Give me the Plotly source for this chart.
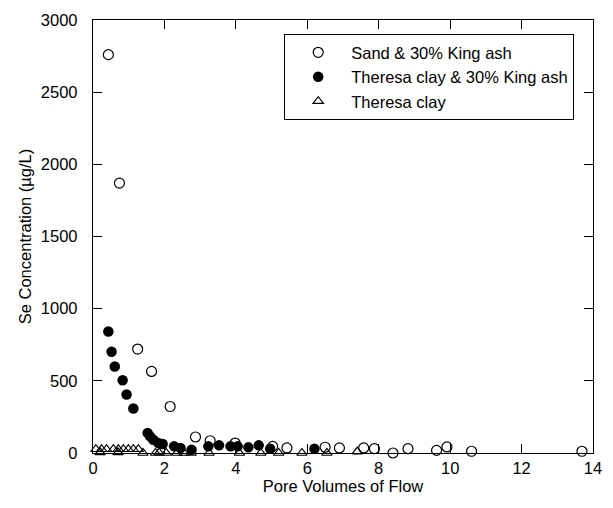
import plotly.graph_objects as go

# Sand & 30% King ash (open circles)
sand_x = [0.43, 0.74, 1.25, 1.64, 2.16, 2.87, 3.28, 3.98, 5.03, 5.43, 6.5, 6.9, 7.58, 7.88, 8.4, 8.82, 9.62, 9.91, 10.6, 13.69]
sand_y = [2760, 1870, 720, 565, 322, 111, 85, 69, 46, 35, 40, 35, 35, 30, 0, 30, 18, 42, 12, 12]

# Theresa clay & 30% King ash (filled circles)
tcka_x = [0.43, 0.52, 0.61, 0.83, 0.94, 1.13, 1.53, 1.6, 1.69, 1.83, 1.95, 2.27, 2.45, 2.76,
          3.23, 3.53, 3.85, 4.05, 4.35, 4.64, 4.96, 6.2]
tcka_y = [842, 701, 599, 504, 405, 308, 139, 115, 92, 69, 62, 46, 35, 23,
          46, 53, 46, 46, 39, 53, 30, 30]

# Theresa clay (open triangles)
tc_x = [0.08, 0.2, 0.24, 0.38, 0.57, 0.7, 0.71, 0.85, 0.99, 1.13, 1.27,
        1.4, 1.75, 1.85, 2.05, 2.35, 2.55, 2.75, 3.25, 4.1, 4.7, 5.2, 5.85, 6.55, 7.4]
tc_y = [26, 5, 26, 26, 26, 5, 26, 26, 26, 26, 26,
        0, 0, 3, 0, 0, 0, 0, 0, 0, 0, 0, 0, 0, 10]

x_ticks = [0, 2, 4, 6, 8, 10, 12, 14]
y_ticks = [0, 500, 1000, 1500, 2000, 2500, 3000]

FONT = "Helvetica, Arial, Liberation Sans, sans-serif"

fig = go.Figure()
fig.add_trace(go.Scatter(
    x=sand_x, y=sand_y, mode="markers", name="Sand & 30% King ash",
    marker=dict(symbol="circle-open", size=10, color="black", line=dict(width=1.2, color="black")),
    cliponaxis=False,
))
fig.add_trace(go.Scatter(
    x=tcka_x, y=tcka_y, mode="markers", name="Theresa clay & 30% King ash",
    marker=dict(symbol="circle", size=10.5, color="black"),
    cliponaxis=False,
))
fig.add_trace(go.Scatter(
    x=tc_x, y=tc_y, mode="markers", name="Theresa clay",
    marker=dict(symbol="triangle-up-open", size=9, color="black", line=dict(width=1.2, color="black")),
    cliponaxis=False,
))

axis_common = dict(
    showline=True, linecolor="black", linewidth=1.3, mirror="ticks",
    ticks="inside", ticklen=9, tickwidth=1.2, tickcolor="black",
    showgrid=False, zeroline=False,
    tickfont=dict(family=FONT, size=16.5, color="black"),
)

fig.update_xaxes(
    range=[0, 14], tickvals=x_ticks, ticktext=[str(v) for v in x_ticks],
    title=dict(text="Pore Volumes of Flow", font=dict(family=FONT, size=16.5, color="black"), standoff=0),
    ticklabelstandoff=0,
    **axis_common,
)
fig.update_yaxes(
    range=[0, 3000], tickvals=y_ticks, ticktext=[str(v) for v in y_ticks],
    title=dict(text="Se Concentration (µg/L)", font=dict(family=FONT, size=16.5, color="black"), standoff=5),
    ticklabelstandoff=11,
    **axis_common,
)

fig.update_layout(
    width=613, height=508,
    margin=dict(l=93, r=20, t=20, b=55, autoexpand=False),
    plot_bgcolor="white", paper_bgcolor="white",
    font=dict(family=FONT, size=16.5, color="black"),
    showlegend=True,
    legend=dict(
        x=0.382, y=0.968, xanchor="left", yanchor="top",
        bordercolor="black", borderwidth=1.2, bgcolor="white",
        font=dict(family=FONT, size=16.5, color="black"),
        itemwidth=56, tracegroupgap=0,
    ),
)

fig.write_html(
    "out.html",
    config={"displayModeBar": False},
    post_script="document.body.style.margin='0';document.body.style.overflow='hidden';",
)
